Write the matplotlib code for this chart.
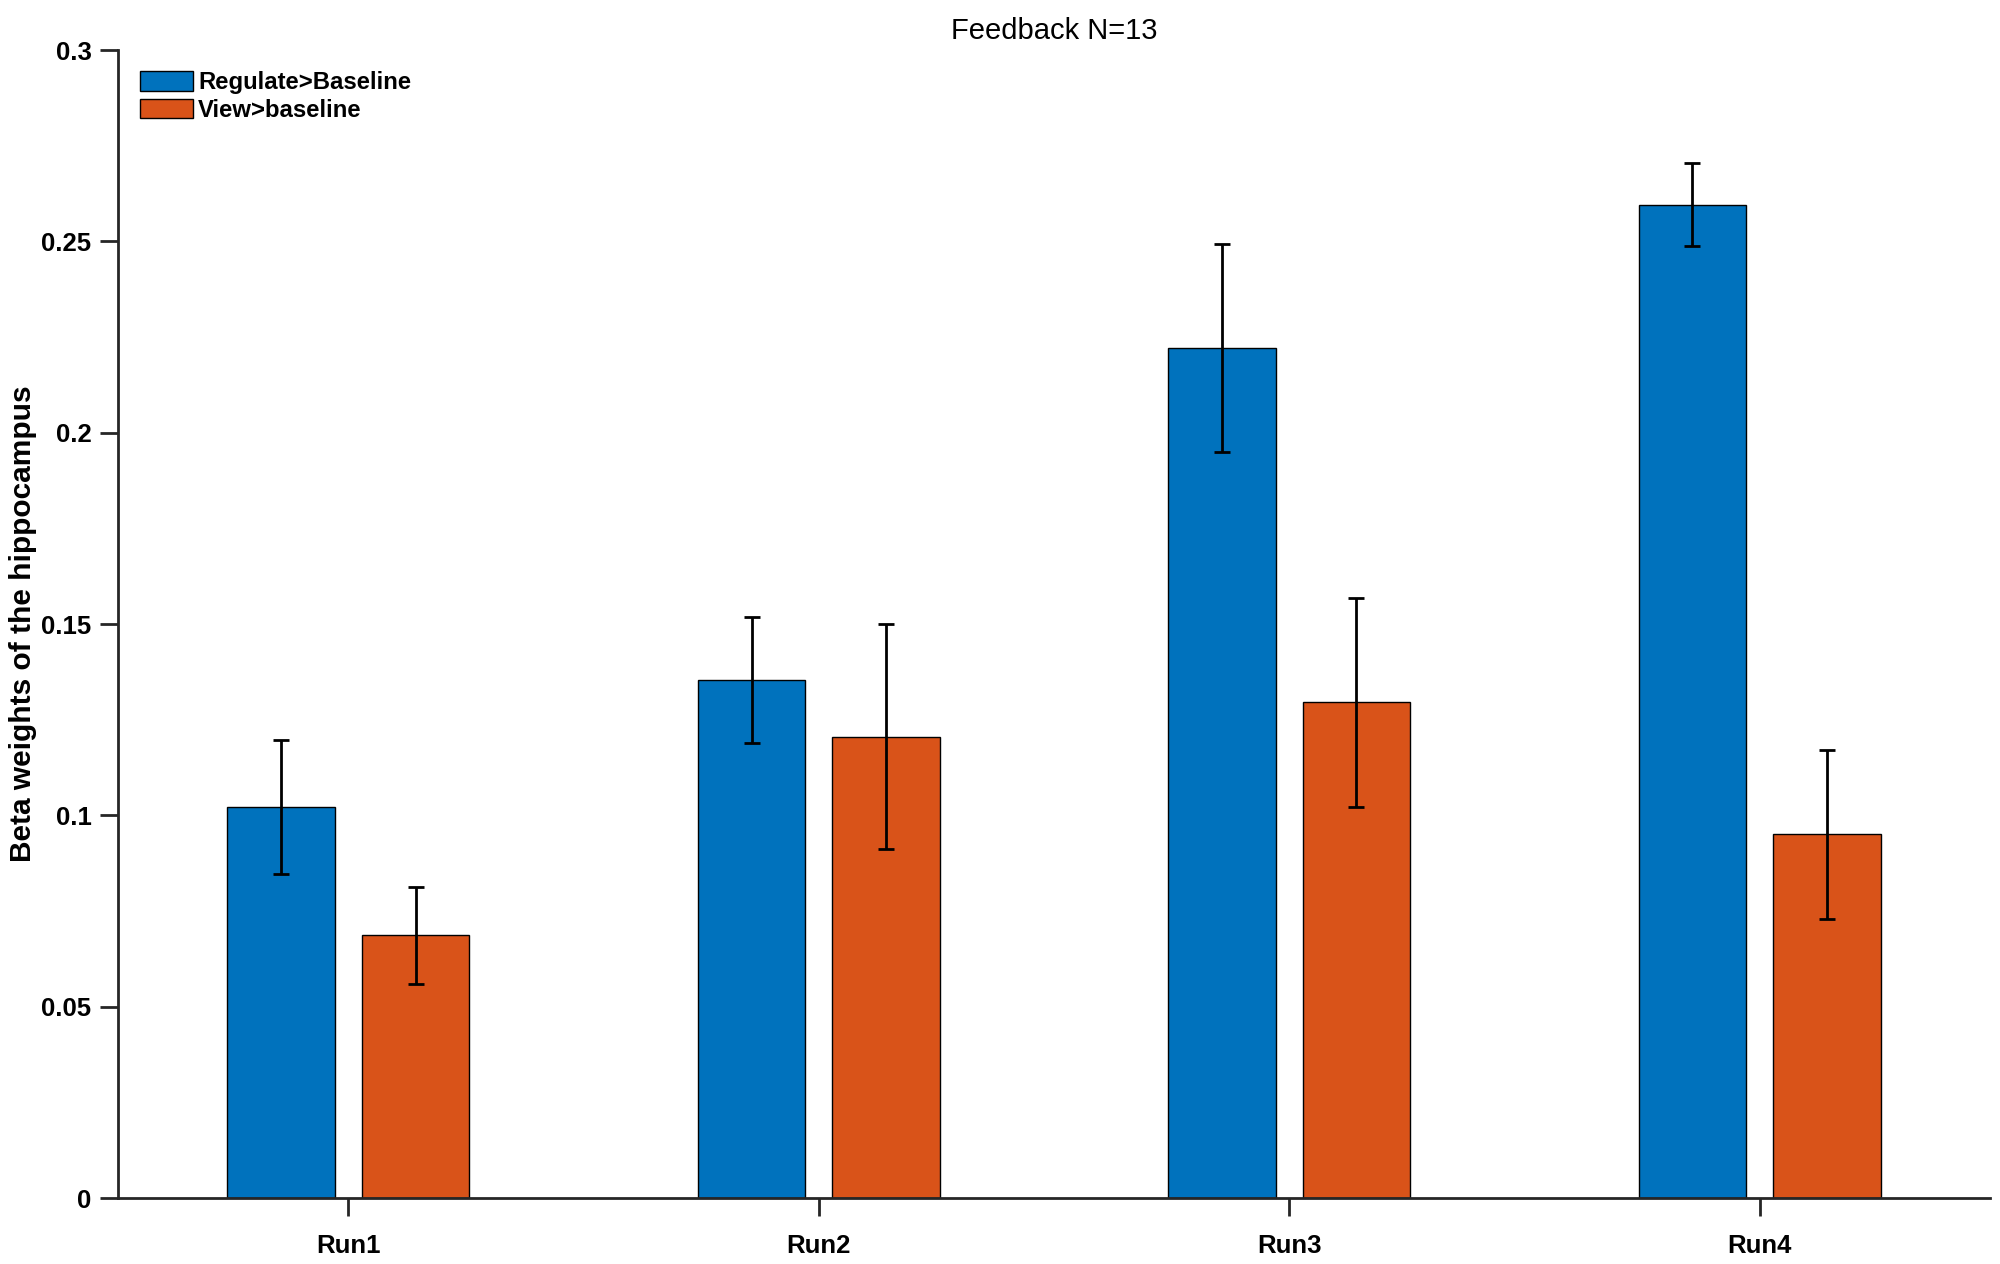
import matplotlib
matplotlib.use("Agg")
import matplotlib.pyplot as plt
import numpy as np

plt.rcParams['font.family'] = ['Liberation Sans', 'DejaVu Sans']

runs = ["Run1", "Run2", "Run3", "Run4"]
series_names = ["Regulate>Baseline", "View>baseline"]
regulate = [0.1023, 0.1354, 0.2221, 0.2596]
regulate_err = [0.0175, 0.0165, 0.0272, 0.0108]
view = [0.0687, 0.1206, 0.1296, 0.0951]
view_err = [0.0127, 0.0295, 0.0273, 0.0221]
yticks = [0, 0.05, 0.1, 0.15, 0.2, 0.25, 0.3]
ytick_labels = ["0", "0.05", "0.1", "0.15", "0.2", "0.25", "0.3"]

blue = "#0072BD"
orange = "#D95319"
spine_col = "#262626"

fig = plt.figure(figsize=(20, 12.64), dpi=100)
ax = fig.add_axes([0.059, 0.0522, 0.936, 0.9082])

x = np.arange(1, len(runs) + 1)
w = 0.2286
off = 0.143
ax.bar(x - off, regulate, width=w, color=blue, edgecolor="black", linewidth=1.0,
       label=series_names[0], zorder=2)
ax.bar(x + off, view, width=w, color=orange, edgecolor="black", linewidth=1.0,
       label=series_names[1], zorder=2)
ax.errorbar(x - off, regulate, yerr=regulate_err, fmt="none", ecolor="black",
            elinewidth=2.0, capsize=6, capthick=2.0, zorder=3)
ax.errorbar(x + off, view, yerr=view_err, fmt="none", ecolor="black",
            elinewidth=2.0, capsize=6, capthick=2.0, zorder=3)

ax.set_xlim(0.51, 4.49)
ax.set_ylim(0, 0.3)
ax.set_xticks(x)
ax.set_xticklabels(runs, fontsize=18.5, fontweight="bold")
ax.set_yticks(yticks)
ax.set_yticklabels(ytick_labels, fontsize=18.5, fontweight="bold")
ax.tick_params(axis="both", direction="out", length=13, width=2, color=spine_col)
ax.tick_params(axis="y", pad=6)
ax.tick_params(axis="x", pad=13)

for s in ["top", "right"]:
    ax.spines[s].set_visible(False)
for s in ["left", "bottom"]:
    ax.spines[s].set_linewidth(2)
    ax.spines[s].set_color(spine_col)

ax.set_ylabel("Beta weights of the hippocampus", fontsize=21.5, fontweight="bold", labelpad=3)
ax.set_title("Feedback N=13", fontsize=21, pad=8)

leg = ax.legend(loc="upper left", bbox_to_anchor=(0.0118, 0.982), frameon=False,
                borderaxespad=0, borderpad=0, handlelength=2.23, handleheight=0.9,
                handletextpad=0.2, labelspacing=0.2,
                prop={"size": 17.2, "weight": "bold"})

fig.savefig("out.png", dpi=100)
